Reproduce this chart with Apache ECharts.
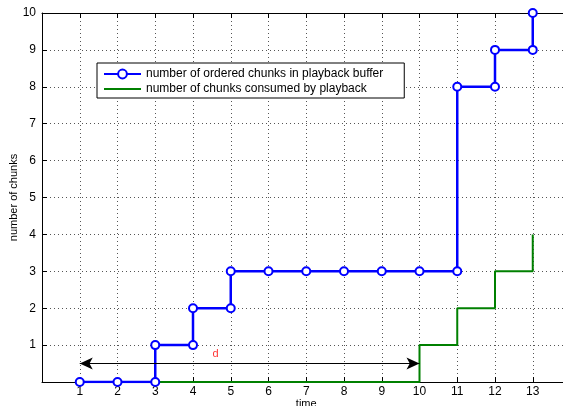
<!DOCTYPE html>
<html>
<head>
<meta charset="utf-8">
<script src="https://cdn.jsdelivr.net/npm/echarts@6/dist/echarts.min.js"></script>
<style>
  html, body { margin: 0; padding: 0; background: #fff; }
  #chart { width: 563px; height: 406px; }
</style>
</head>
<body>
<div id="chart"></div>
<script>
// Staircase of ordered chunks (blue, with markers) and consumed chunks (green)
const orderedX = [1, 2, 3, 3, 4, 4, 5, 5, 6, 7, 8, 9, 10, 11, 11, 12, 12, 13, 13];
const orderedY = [0, 0, 0, 1, 1, 2, 2, 3, 3, 3, 3, 3, 3, 3, 8, 8, 9, 9, 10];
const consumedX = [1, 2, 3, 4, 5, 6, 7, 8, 9, 10, 10, 11, 11, 12, 12, 13, 13];
const consumedY = [0, 0, 0, 0, 0, 0, 0, 0, 0, 0, 1, 1, 2, 2, 3, 3, 4];
const xTicks = [1, 2, 3, 4, 5, 6, 7, 8, 9, 10, 11, 12, 13];
const yTicks = [1, 2, 3, 4, 5, 6, 7, 8, 9, 10];
// Start-up delay arrow between the two curves
const delayStart = [1, 0.5];
const delayEnd = [10, 0.5];
const delayLabel = { text: 'd', x: 4.6, y: 0.76 };

const seriesNames = [
  'number of ordered chunks in playback buffer',
  'number of chunks consumed by playback'
];

const zip = (xs, ys) => xs.map((x, i) => [x, ys[i]]);
const font = 'Liberation Sans, Arial, Helvetica, sans-serif';

const chart = echarts.init(document.getElementById('chart'), null, { renderer: 'canvas' });

chart.setOption({
  animation: false,
  backgroundColor: '#ffffff',
  grid: { left: 42, top: 13, height: 369, width: 528.5, containLabel: false, outerBoundsMode: 'none' },
  legend: {
    orient: 'vertical',
    left: 97,
    top: 63,
    data: [
      { name: seriesNames[0] },
      { name: seriesNames[1], itemStyle: { opacity: 0, borderWidth: 0 } }
    ],
    backgroundColor: '#ffffff',
    borderColor: '#000000',
    borderWidth: 1,
    borderRadius: 0,
    padding: [5, 21, 3, 6],
    itemWidth: 37,
    itemHeight: 11,
    itemGap: 3,
    textStyle: { fontFamily: font, fontSize: 12, color: '#000' }
  },
  xAxis: [{
    type: 'value',
    min: 0, max: 14, interval: 1,
    name: 'time',
    nameLocation: 'middle',
    nameGap: 16,
    nameMoveOverlap: false,
    nameTextStyle: { fontFamily: font, fontSize: 11, color: '#000' },
    axisLine: { show: true, lineStyle: { color: '#000', width: 1 } },
    axisTick: { show: true, inside: true, length: 5, lineStyle: { color: '#000' } },
    axisLabel: {
      margin: 4,
      fontFamily: font, fontSize: 12, color: '#000',
      formatter: v => (xTicks.indexOf(v) >= 0 ? String(v) : '')
    },
    splitLine: { show: true, lineStyle: { type: [1, 3], color: '#555', width: 1 } }
  }, {
    type: 'value',
    position: 'top',
    min: 0, max: 14, interval: 1,
    axisLine: { show: true, onZero: false, lineStyle: { color: '#000', width: 1 } },
    axisTick: { show: true, inside: true, length: 5, lineStyle: { color: '#000' } },
    axisLabel: { show: false },
    splitLine: { show: false }
  }],
  yAxis: [{
    type: 'value',
    min: 0, max: 10, interval: 1,
    name: 'number of chunks',
    nameLocation: 'middle',
    nameGap: 23,
    nameMoveOverlap: false,
    nameTextStyle: { fontFamily: font, fontSize: 11, color: '#000' },
    axisLine: { show: true, lineStyle: { color: '#000', width: 1 } },
    axisTick: { show: true, inside: true, length: 5, lineStyle: { color: '#000' } },
    axisLabel: {
      margin: 6,
      fontFamily: font, fontSize: 12, color: '#000',
      formatter: v => (yTicks.indexOf(v) >= 0 ? String(v) : '')
    },
    splitLine: { show: true, lineStyle: { type: [1, 3], color: '#555', width: 1 } }
  }],
  series: [{
    name: seriesNames[1],
    type: 'line',
    data: zip(consumedX, consumedY),
    showSymbol: false,
    symbol: 'none',
    lineStyle: { color: '#008000', width: 2 },
    itemStyle: { color: '#008000' },
    z: 3
  }, {
    name: seriesNames[0],
    type: 'line',
    data: zip(orderedX, orderedY),
    symbol: 'circle',
    symbolSize: 8,
    showAllSymbol: true,
    lineStyle: { color: '#0000ff', width: 2.5 },
    itemStyle: { color: '#ffffff', borderColor: '#0000ff', borderWidth: 2 },
    z: 4
  }, {
    name: 'delay',
    type: 'line',
    data: [],
    silent: true,
    markLine: {
      silent: true,
      symbol: ['arrow', 'arrow'],
      symbolSize: [9, 13],
      label: { show: false },
      lineStyle: { color: '#000', width: 1, type: 'solid' },
      data: [[{ coord: delayStart }, { coord: delayEnd }]]
    },
    z: 2
  }, {
    name: 'delayLabel',
    type: 'scatter',
    silent: true,
    symbolSize: 0,
    data: [[delayLabel.x, delayLabel.y]],
    label: {
      show: true,
      position: 'inside',
      formatter: delayLabel.text,
      color: '#ff0000',
      fontFamily: font,
      fontSize: 11
    },
    z: 5
  }]
});
</script>
</body>
</html>
